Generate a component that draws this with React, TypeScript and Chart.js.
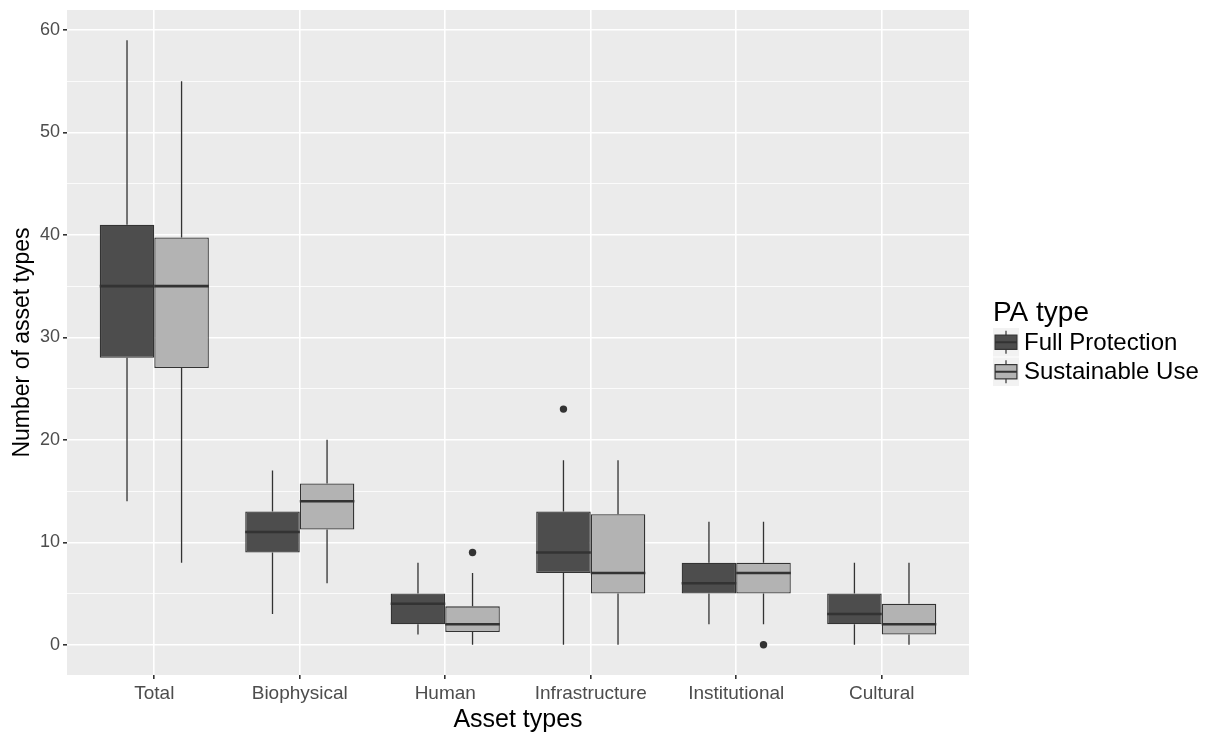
import React, { useEffect, useRef } from 'react';
import { Chart, registerables } from 'chart.js';

Chart.register(...registerables);

// ---- data ----
const categories = ['Total', 'Biophysical', 'Human', 'Infrastructure', 'Institutional', 'Cultural'];
const seriesNames = ['Full Protection', 'Sustainable Use'];

const fpMin = [14, 3, 1, 0, 2, 0];
const fpQ1 = [28, 9, 2, 7, 5, 2];
const fpMedian = [35, 11, 4, 9, 6, 3];
const fpQ3 = [41, 13, 5, 13, 8, 5];
const fpMax = [59, 17, 8, 18, 12, 8];
const fpOutliers = [[], [], [], [23], [], []];

const suMin = [8, 6, 0, 0, 2, 0];
const suQ1 = [27, 11.25, 1.25, 5, 5, 1];
const suMedian = [35, 14, 2, 7, 7, 2];
const suQ3 = [39.75, 15.75, 3.75, 12.75, 8, 4];
const suMax = [55, 20, 7, 18, 12, 8];
const suOutliers = [[], [], [9], [], [0], []];

const yGridValues = [0, 5, 10, 15, 20, 25, 30, 35, 40, 45, 50, 55, 60];
const yLabelValues = [0, 10, 20, 30, 40, 50, 60];
const yMin = -2.95;
const yMax = 61.95;

// ---- styles ----
const FONT = '"Liberation Sans", Arial, Helvetica, sans-serif';
const fills = ['#4D4D4D', '#B3B3B3'];
const LINE = '#333333';

const stats = [
  { min: fpMin, q1: fpQ1, med: fpMedian, q3: fpQ3, max: fpMax, out: fpOutliers },
  { min: suMin, q1: suQ1, med: suMedian, q3: suQ3, max: suMax, out: suOutliers },
];

export default function App() {
  const ref = useRef<HTMLCanvasElement>(null);

  useEffect(() => {
    const canvas = ref.current;
    if (!canvas) return;

    const boxPlugin = {
      id: 'boxplotExtras',
      beforeDraw(chart: any) {
        const { ctx, chartArea: a } = chart;
        ctx.save();
        ctx.fillStyle = '#EBEBEB';
        ctx.fillRect(a.left, a.top, a.right - a.left, a.bottom - a.top);
        ctx.restore();
      },
      afterDatasetsDraw(chart: any) {
        const { ctx } = chart;
        const ys = chart.scales.y;
        ctx.save();
        stats.forEach((s, d) => {
          const meta = chart.getDatasetMeta(d);
          meta.data.forEach((el: any, i: number) => {
            const x = el.x;
            const w = el.width;
            ctx.strokeStyle = LINE;
            ctx.lineWidth = 1.3;
            ctx.beginPath();
            ctx.moveTo(x, ys.getPixelForValue(s.q3[i]));
            ctx.lineTo(x, ys.getPixelForValue(s.max[i]));
            ctx.moveTo(x, ys.getPixelForValue(s.q1[i]));
            ctx.lineTo(x, ys.getPixelForValue(s.min[i]));
            ctx.stroke();
            ctx.lineWidth = 2.6;
            ctx.beginPath();
            const my = ys.getPixelForValue(s.med[i]);
            ctx.moveTo(x - w / 2, my);
            ctx.lineTo(x + w / 2, my);
            ctx.stroke();
            ctx.fillStyle = LINE;
            s.out[i].forEach((v: number) => {
              ctx.beginPath();
              ctx.arc(x, ys.getPixelForValue(v), 3.7, 0, Math.PI * 2);
              ctx.fill();
            });
          });
        });
        ctx.restore();
      },
      afterDraw(chart: any) {
        const { ctx } = chart;
        ctx.save();
        const lx = 993;
        ctx.fillStyle = '#000000';
        ctx.font = `28px ${FONT}`;
        ctx.textBaseline = 'alphabetic';
        ctx.textAlign = 'left';
        ctx.fillText('PA type', lx, 321);
        const kw = 26;
        const kh = 28.5;
        seriesNames.forEach((name, k) => {
          const ky = 328 + k * (kh + 1);
          ctx.fillStyle = '#F2F2F2';
          ctx.fillRect(lx, ky, kw, kh);
          const cx = lx + kw / 2;
          ctx.strokeStyle = LINE;
          ctx.lineWidth = 1.2;
          ctx.beginPath();
          ctx.moveTo(cx, ky + kh * 0.1);
          ctx.lineTo(cx, ky + kh * 0.9);
          ctx.stroke();
          ctx.fillStyle = fills[k];
          const bx = lx + kw * 0.08;
          const bw = kw * 0.84;
          const by = ky + kh * 0.25;
          const bh = kh * 0.5;
          ctx.fillRect(bx, by, bw, bh);
          ctx.strokeRect(bx, by, bw, bh);
          ctx.lineWidth = 2;
          ctx.beginPath();
          ctx.moveTo(bx, ky + kh / 2);
          ctx.lineTo(bx + bw, ky + kh / 2);
          ctx.stroke();
          ctx.fillStyle = '#000000';
          ctx.font = `24px ${FONT}`;
          ctx.textBaseline = 'middle';
          ctx.fillText(name, 1024, ky + kh / 2 + 1);
        });
        ctx.restore();
      },
    };

    const chart = new Chart(canvas, {
      type: 'bar',
      data: {
        datasets: stats.map((s, d) => ({
          label: seriesNames[d],
          data: categories.map((_, i) => ({ x: i + 1, y: [s.q1[i], s.q3[i]] })),
          backgroundColor: fills[d],
          borderColor: LINE,
          borderWidth: 1.3,
          borderSkipped: false,
          categoryPercentage: 0.75,
          barPercentage: 1,
        })),
      } as any,
      options: {
        responsive: false,
        animation: false,
        devicePixelRatio: 1,
        layout: { padding: { left: 0, top: 10, right: 248, bottom: 0 } },
        plugins: { legend: { display: false }, tooltip: { enabled: false } },
        scales: {
          x: {
            type: 'linear',
            offset: false,
            min: 0.4,
            max: 6.6,
            afterBuildTicks: (s: any) => {
              s.ticks = categories.map((_, i) => ({ value: i + 1 }));
            },
            afterFit: (s: any) => {
              s.height = 63;
              s.paddingLeft = 0;
              s.paddingRight = 0;
            },
            grid: { offset: false, color: '#FFFFFF', lineWidth: 1.6, tickColor: LINE, tickLength: 4, drawTicks: true },
            border: { display: false },
            ticks: {
              callback: (v: any) => categories[Math.round(v) - 1] ?? '',
              color: '#4D4D4D',
              font: { family: FONT, size: 19 },
              padding: 3,
              maxRotation: 0,
              autoSkip: false,
            },
            title: {
              display: true,
              text: 'Asset types',
              color: '#000000',
              font: { family: FONT, size: 25 },
              padding: { top: 0, bottom: 3 },
            },
          },
          y: {
            type: 'linear',
            min: yMin,
            max: yMax,
            afterBuildTicks: (s: any) => {
              s.ticks = yGridValues.map((v) => ({ value: v }));
            },
            afterFit: (s: any) => {
              s.width = 67;
              s.paddingTop = 0;
              s.paddingBottom = 0;
            },
            grid: {
              color: '#FFFFFF',
              lineWidth: (c: any) => (c.tick && yLabelValues.includes(c.tick.value) ? 1.6 : 0.8),
              tickColor: (c: any) => (c.tick && yLabelValues.includes(c.tick.value) ? LINE : 'rgba(0,0,0,0)'),
              tickLength: 4,
            },
            border: { display: false },
            ticks: {
              callback: (v: any) => (yLabelValues.includes(v) ? String(v) : ''),
              color: '#4D4D4D',
              font: { family: FONT, size: 18 },
              padding: 3,
              autoSkip: false,
            },
            title: {
              display: true,
              text: 'Number of asset types',
              color: '#000000',
              font: { family: FONT, size: 23 },
              padding: { top: 9, bottom: 0 },
            },
          },
        },
      } as any,
      plugins: [boxPlugin],
    });

    return () => chart.destroy();
  }, []);

  return (
    <div style={{ position: 'absolute', left: 0, top: 0, width: 1217, height: 738, background: '#FFFFFF' }}>
      <canvas ref={ref} width={1217} height={738} style={{ display: 'block' }} />
    </div>
  );
}
